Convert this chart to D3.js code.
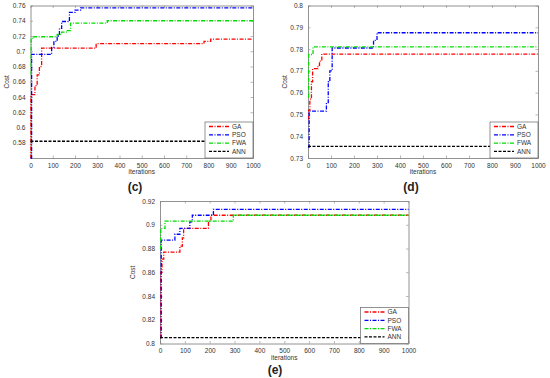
<!DOCTYPE html>
<html>
<head>
<meta charset="utf-8">
<script src="https://cdn.jsdelivr.net/npm/d3@7"></script>
<style>
body { margin: 0; background: #fff; }
text { font-family: Arial, "Liberation Sans", sans-serif; }
</style>
</head>
<body>
<div id="chart"></div>
<script>
// shared
var iter_ticks = [0, 100, 200, 300, 400, 500, 600, 700, 800, 900, 1000];
var names      = ['GA', 'PSO', 'FWA', 'ANN'];

// panel (c)
var c_ticks = [0.58, 0.6, 0.62, 0.64, 0.66, 0.68, 0.7, 0.72, 0.74, 0.76];
var c_ga  = [[0,0.56],[2,0.643],[20,0.655],[30,0.669],[40,0.68],[50,0.704],[295,0.71],[780,0.713],[810,0.716],[1000,0.716]];
var c_pso = [[0,0.56],[5,0.696],[95,0.705],[105,0.713],[120,0.72],[130,0.73],[140,0.739],[175,0.751],[200,0.754],[225,0.757],[1000,0.757]];
var c_fwa = [[0,0.67],[3,0.716],[10,0.719],[120,0.722],[140,0.725],[165,0.727],[180,0.737],[345,0.74],[1000,0.74]];
var c_ann = [[0,0.582],[1000,0.582]];

// panel (d)
var d_ticks = [0.73, 0.74, 0.75, 0.76, 0.77, 0.78, 0.79, 0.8];
var d_ga  = [[0,0.748],[3,0.752],[8,0.757],[15,0.765],[20,0.771],[43,0.7725],[50,0.7745],[60,0.7777],[1000,0.7777]];
var d_pso = [[0,0.735],[5,0.7515],[80,0.755],[88,0.765],[95,0.77],[105,0.7805],[285,0.784],[300,0.7875],[1000,0.7875]];
var d_fwa = [[0,0.758],[3,0.7775],[22,0.781],[1000,0.781]];
var d_ann = [[0,0.7353],[1000,0.7353]];

// panel (e)
var e_ticks = [0.8, 0.82, 0.84, 0.86, 0.88, 0.9, 0.92];
var e_ga  = [[0,0.805],[3,0.86],[8,0.871],[15,0.877],[80,0.882],[90,0.889],[95,0.897],[195,0.903],[205,0.908],[1000,0.908]];
var e_pso = [[0,0.805],[5,0.887],[60,0.892],[80,0.897],[120,0.9025],[130,0.908],[215,0.913],[1000,0.913]];
var e_fwa = [[0,0.88],[3,0.897],[20,0.903],[295,0.908],[1000,0.908]];
var e_ann = [[0,0.805],[1000,0.805]];

var colors = ['#ff0000', '#0000ff', '#00dd00', '#000000'];
var dashes = ['4,1.5,1,1.5', '4,1.5,1,1.5', '4,1.5,1,1.5', '3,1.5'];

var svg = d3.select('#chart')
		.append('svg')
		.attr('width', 550)
		.attr('height', 378);

function panel(p){
	var g = svg.append('g');

	var x_scale = d3.scaleLinear().domain([0, 1000]).range([p.left, p.right]);
	var y_scale = d3.scaleLinear().domain(p.ydomain).range([p.bottom, p.top]);

	// axes, MATLAB style: inward ticks on all sides
	var fmt = function(d){ return String(+d.toFixed(2)); };
	g.append('g')
		.attr('transform', 'translate(0,' + p.bottom + ')')
		.call(d3.axisBottom(x_scale).tickValues(iter_ticks).tickSizeInner(-2.5).tickSizeOuter(0).tickPadding(5).tickFormat(d3.format('d')));
	g.append('g')
		.attr('transform', 'translate(0,' + p.top + ')')
		.call(d3.axisTop(x_scale).tickValues(iter_ticks).tickSizeInner(-2.5).tickSizeOuter(0).tickFormat(''));
	g.append('g')
		.attr('transform', 'translate(' + p.left + ',0)')
		.call(d3.axisLeft(y_scale).tickValues(p.yticks).tickSizeInner(-2.5).tickSizeOuter(0).tickPadding(5).tickFormat(fmt));
	g.append('g')
		.attr('transform', 'translate(' + p.right + ',0)')
		.call(d3.axisRight(y_scale).tickValues(p.yticks).tickSizeInner(-2.5).tickSizeOuter(0).tickFormat(''));

	g.selectAll('.domain').attr('stroke', '#777').attr('stroke-width', 0.8);
	g.selectAll('.tick line').attr('stroke', '#888').attr('stroke-width', 0.6);
	g.selectAll('.tick text').attr('font-size', 6.5).attr('fill', '#333').attr('font-family', 'Arial, "Liberation Sans", sans-serif');

	// series
	var line = d3.line()
			.x(function(d){ return x_scale(d[0]); })
			.y(function(d){ return y_scale(d[1]); })
			.curve(d3.curveStepAfter);

	g.selectAll('path.series')
		.data(p.series)
		.enter()
		.append('path')
		.attr('class', 'series')
		.attr('d', line)
		.attr('fill', 'none')
		.attr('stroke', function(d, i){ return colors[i]; })
		.attr('stroke-width', 1.3)
		.attr('stroke-dasharray', function(d, i){ return dashes[i]; });

	// axis titles
	g.append('text')
		.text('Cost')
		.attr('transform', 'translate(' + p.costX + ',' + (p.top + p.bottom) / 2 + ') rotate(-90)')
		.attr('text-anchor', 'middle')
		.attr('font-size', 6.5)
		.attr('fill', '#333');
	g.append('text')
		.text('iterations')
		.attr('x', (p.left + p.right) / 2)
		.attr('y', p.bottom + 16)
		.attr('text-anchor', 'middle')
		.attr('font-size', 6.5)
		.attr('fill', '#333');

	// legend
	var lw = 48, lh = 36;
	var lx = p.right - lw, ly = p.bottom - lh;
	g.append('rect')
		.attr('x', lx).attr('y', ly)
		.attr('width', lw).attr('height', lh)
		.attr('fill', '#fff')
		.attr('stroke', '#666')
		.attr('stroke-width', 0.7);
	var items = g.selectAll('g.leg')
		.data(names)
		.enter()
		.append('g')
		.attr('class', 'leg')
		.attr('transform', function(d, i){ return 'translate(' + lx + ',' + (ly + 4.5 + i * 8.3) + ')'; });
	items.append('line')
		.attr('x1', 4).attr('x2', 24)
		.attr('y1', 0).attr('y2', 0)
		.attr('stroke', function(d, i){ return colors[i]; })
		.attr('stroke-width', 1.3)
		.attr('stroke-dasharray', function(d, i){ return dashes[i]; });
	items.append('text')
		.text(function(d){ return d; })
		.attr('x', 27)
		.attr('y', 2.3)
		.attr('font-size', 6.5)
		.attr('fill', '#333');

	// caption
	svg.append('text')
		.text(p.caption)
		.attr('x', p.capX)
		.attr('y', p.capY)
		.attr('text-anchor', 'middle')
		.attr('font-family', '"Liberation Serif", "Times New Roman", serif')
		.attr('font-weight', 'bold')
		.attr('font-size', 12)
		.attr('fill', '#222');
}

panel({ left: 30.5, right: 253, top: 5.5, bottom: 158, ydomain: [0.56, 0.76], yticks: c_ticks,
	series: [c_ga, c_pso, c_fwa, c_ann], costX: 8.5, caption: '(c)', capX: 135, capY: 191 });
panel({ left: 308, right: 538, top: 5.5, bottom: 158, ydomain: [0.73, 0.8], yticks: d_ticks,
	series: [d_ga, d_pso, d_fwa, d_ann], costX: 286.5, caption: '(d)', capX: 411, capY: 191 });
panel({ left: 160, right: 408.5, top: 201, bottom: 343.5, ydomain: [0.8, 0.92], yticks: e_ticks,
	series: [e_ga, e_pso, e_fwa, e_ann], costX: 135, caption: '(e)', capX: 275, capY: 374 });
</script>
</body>
</html>
